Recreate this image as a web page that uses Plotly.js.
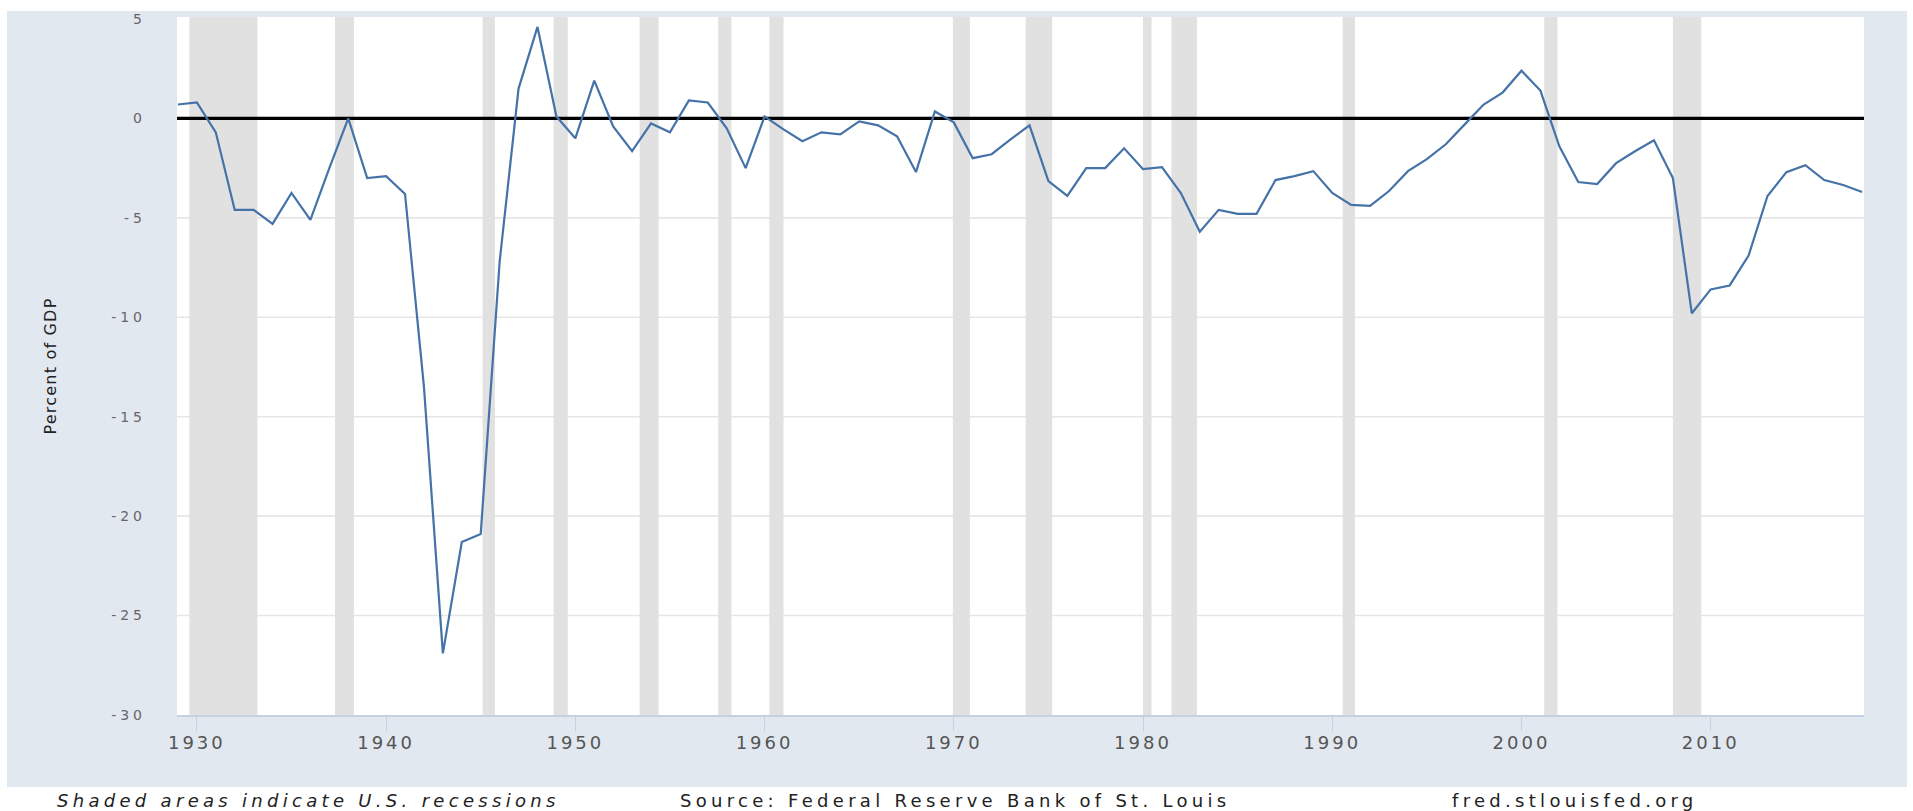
<!DOCTYPE html>
<html>
<head>
<meta charset="utf-8">
<script src="https://cdn.plot.ly/plotly-3.0.1.min.js"></script>
<style>
  html, body { margin: 0; padding: 0; background: #ffffff; }
  #chart { width: 1913px; height: 811px; }
  .xtick text { letter-spacing: 3px; }
  .ytick text { letter-spacing: 4px; }
  .ytitle { letter-spacing: 1.2px; }
  .annotation-text { letter-spacing: 4.3px; }
</style>
</head>
<body>
<div id="chart"></div>
<script>
// Federal surplus or deficit as percent of GDP, annual
const years = [
  1929, 1930, 1931, 1932, 1933, 1934, 1935, 1936, 1937, 1938,
  1939, 1940, 1941, 1942, 1943, 1944, 1945, 1946, 1947, 1948,
  1949, 1950, 1951, 1952, 1953, 1954, 1955, 1956, 1957, 1958,
  1959, 1960, 1961, 1962, 1963, 1964, 1965, 1966, 1967, 1968,
  1969, 1970, 1971, 1972, 1973, 1974, 1975, 1976, 1977, 1978,
  1979, 1980, 1981, 1982, 1983, 1984, 1985, 1986, 1987, 1988,
  1989, 1990, 1991, 1992, 1993, 1994, 1995, 1996, 1997, 1998,
  1999, 2000, 2001, 2002, 2003, 2004, 2005, 2006, 2007, 2008,
  2009, 2010, 2011, 2012, 2013, 2014, 2015, 2016, 2017, 2018
];
const percentOfGDP = [
  0.7, 0.8, -0.7, -4.6, -4.6, -5.3, -3.75, -5.1, -2.5, 0.0,
  -3.0, -2.9, -3.8, -13.5, -26.9, -21.3, -20.9, -7.2, 1.5, 4.6,
  0.1, -1.0, 1.9, -0.4, -1.65, -0.25, -0.7, 0.9, 0.8, -0.5,
  -2.5, 0.1, -0.55, -1.15, -0.7, -0.8, -0.15, -0.35, -0.9, -2.7,
  0.35, -0.2, -2.0, -1.8, -1.05, -0.35, -3.15, -3.9, -2.5, -2.5,
  -1.5, -2.55, -2.45, -3.75, -5.7, -4.6, -4.8, -4.8, -3.1, -2.9,
  -2.65, -3.75, -4.35, -4.4, -3.65, -2.65, -2.05, -1.3, -0.3, 0.7,
  1.3, 2.4, 1.4, -1.4, -3.2, -3.3, -2.25, -1.65, -1.1, -3.0,
  -9.8, -8.6, -8.4, -6.9, -3.9, -2.7, -2.35, -3.1, -3.35, -3.7
];

// U.S. recessions (shaded), in decimal years
const recessionStarts = [1929.6, 1937.3, 1945.1, 1948.85, 1953.4, 1957.55, 1960.25, 1969.95, 1973.8, 1980.0, 1981.5, 1990.55, 2001.2, 2008.0];
const recessionEnds   = [1933.2, 1938.3, 1945.75, 1949.6, 1954.4, 1958.25, 1961.0, 1970.85, 1975.2, 1980.45, 1982.85, 1991.2, 2001.9, 2009.5];

// Axis ticks
const xTickVals = [1930, 1940, 1950, 1960, 1970, 1980, 1990, 2000, 2010];
const xTickText = ["1930", "1940", "1950", "1960", "1970", "1980", "1990", "2000", "2010"];
const yTickVals = [5, 0, -5, -10, -15, -20, -25, -30];
const yTickText = ["5", "0", "-5", "-10", "-15", "-20", "-25", "-30"];
const yGridVals = [-5, -10, -15, -20, -25];

const xRange = [1928.95, 2018.1];
const yRange = [-30, 5.1];

const FONT = "DejaVu Sans, Verdana, sans-serif";

const shapes = [];
// outer light-blue chart panel
shapes.push({
  type: "rect", xref: "paper", yref: "paper",
  x0: -0.1008, x1: 1.0255, y0: -0.1032, y1: 1.0086,
  fillcolor: "#e1e8f0", line: { width: 0 }, layer: "below"
});
// white plotting area
shapes.push({
  type: "rect", xref: "paper", yref: "paper",
  x0: 0, x1: 1, y0: 0, y1: 1,
  fillcolor: "#ffffff", line: { width: 0 }, layer: "below"
});
// horizontal gridlines (drawn under the recession bars)
yGridVals.forEach(v => {
  shapes.push({
    type: "line", xref: "x", yref: "y",
    x0: xRange[0], x1: xRange[1], y0: v, y1: v,
    line: { color: "#e6e6e6", width: 1.6 }, layer: "below"
  });
});
// recession bars
for (let i = 0; i < recessionStarts.length; i++) {
  shapes.push({
    type: "rect", xref: "x", yref: "y",
    x0: recessionStarts[i], x1: recessionEnds[i], y0: yRange[0], y1: yRange[1],
    fillcolor: "#e1e1e1", line: { width: 0 }, layer: "below"
  });
}
// zero reference line
shapes.push({
  type: "line", xref: "x", yref: "y",
  x0: xRange[0], x1: xRange[1], y0: 0, y1: 0,
  line: { color: "#000000", width: 3.2 }, layer: "below"
});

const trace = {
  type: "scatter",
  mode: "lines",
  x: years,
  y: percentOfGDP,
  line: { color: "#4572a7", width: 2.2 },
  hoverinfo: "x+y",
  showlegend: false
};

const layout = {
  width: 1913,
  height: 811,
  margin: { l: 177, r: 49, t: 17, b: 96, pad: 0 },
  paper_bgcolor: "#ffffff",
  plot_bgcolor: "#ffffff",
  font: { family: FONT, color: "#555555" },
  showlegend: false,
  xaxis: {
    range: xRange,
    tickmode: "array",
    tickvals: xTickVals,
    ticktext: xTickText,
    showgrid: false,
    zeroline: false,
    showline: true,
    linecolor: "#c3d1e2",
    linewidth: 1.5,
    ticks: "outside",
    ticklen: 14,
    tickwidth: 1,
    tickcolor: "#c3d1e2",
    tickfont: { family: FONT, size: 18, color: "#555555" },
    ticklabelstandoff: -3
  },
  yaxis: {
    range: yRange,
    tickmode: "array",
    tickvals: yTickVals,
    ticktext: yTickText,
    showgrid: false,
    zeroline: false,
    showline: false,
    ticks: "",
    tickfont: { family: FONT, size: 14, color: "#666666" },
    ticklabelstandoff: 30,
    title: {
      text: "Percent of GDP",
      font: { family: FONT, size: 16, color: "#222222" },
      standoff: 50
    }
  },
  shapes: shapes,
  annotations: [
    {
      xref: "paper", yref: "paper", x: 0.0777, y: -0.1232,
      xanchor: "center", yanchor: "middle", showarrow: false,
      text: "<i>Shaded areas indicate U.S. recessions</i>",
      font: { family: FONT, size: 18, color: "#222222" }
    },
    {
      xref: "paper", yref: "paper", x: 0.4612, y: -0.1232,
      xanchor: "center", yanchor: "middle", showarrow: false,
      text: "Source: Federal Reserve Bank of St. Louis",
      font: { family: FONT, size: 18, color: "#222222" }
    },
    {
      xref: "paper", yref: "paper", x: 0.8287, y: -0.1232,
      xanchor: "center", yanchor: "middle", showarrow: false,
      text: "fred.stlouisfed.org",
      font: { family: FONT, size: 18, color: "#222222" }
    }
  ]
};

Plotly.newPlot("chart", [trace], layout, { displayModeBar: false });
</script>
</body>
</html>
